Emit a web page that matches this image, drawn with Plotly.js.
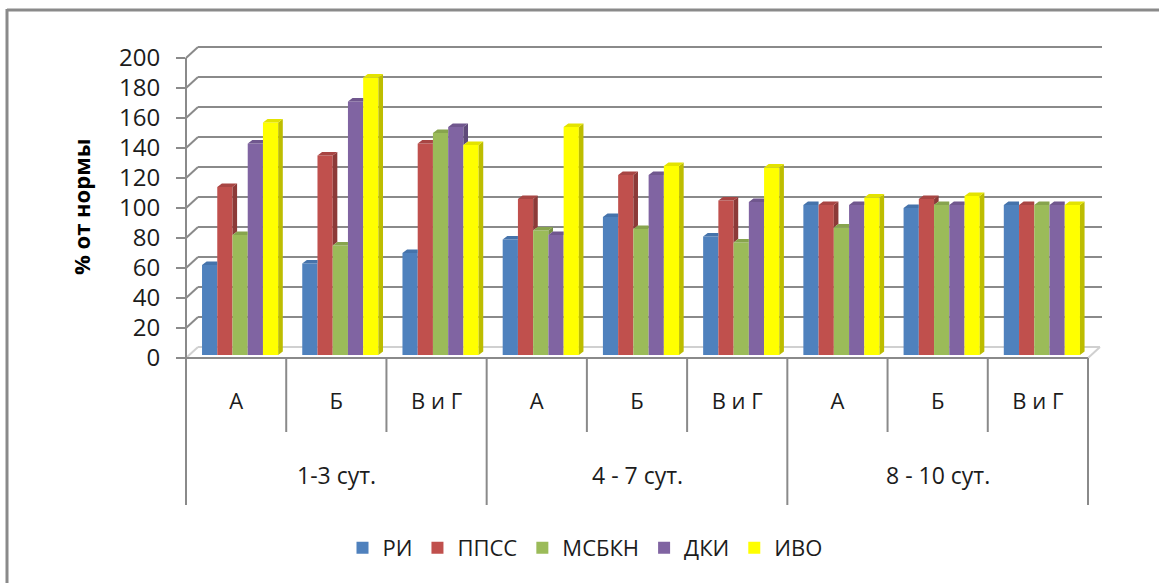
<!DOCTYPE html>
<html><head><meta charset="utf-8">
<script src="https://cdn.plot.ly/plotly-3.0.1.min.js"></script>
<style>html,body{margin:0;padding:0;background:#fff}#c{width:1159px;height:583px}</style>
</head><body><div id="c"></div>
<script>
const groups = ['1-3 сут.', '4 - 7 сут.', '8 - 10 сут.'];
const categories = ['А','Б','В и Г','А','Б','В и Г','А','Б','В и Г'];
const yTicks = [0,20,40,60,80,100,120,140,160,180,200];
const seriesNames = ['РИ','ППСС','МСБКН','ДКИ','ИВО'];
const RI    = [60,61,68,77,92,79,100,98,100];
const PPSS  = [112,133,141,104,120,103,100,104,100];
const MSBKN = [80,73,148,83,84,75,85,100,100];
const DKI   = [141,169,152,80,120,102,100,100,100];
const IVO   = [155,185,140,152,126,125,105,106,100];
const frontColors = ['#4f81bd','#c0504d','#9bbb59','#8064a2','#ffff00'];
const sideColors  = ['#3b6190','#8c3a38','#769043','#5f4a7a','#bdbd00'];
const topColors   = ['#4573ab','#a84543','#87a44d','#70578e','#e3e300'];
const values = [RI,PPSS,MSBKN,DKI,IVO];

// Page geometry (pixels) of the pseudo-3D frame
const L=186,R=1088,B=358,T=58,DX=12,DY=11;
const plotW=(R-L)+DX+2, plotH=(B-T)+DY;
const pxCat=(R-L)/categories.length, pxUnit=(B-T)/200;
const xMax=plotW/pxCat, yMax=plotH/pxUnit;
const px=x=>(x-L)/plotW, py=y=>(B-y)/plotH;

// Bar geometry in data units
const gap=0.24, barW=(1-gap)/5, shiftX=4/pxCat, base=3/pxUnit, sideX=4.6/pxCat, sideY=3.5/pxUnit;
const centers=categories.map((_,i)=>i+0.5+shiftX);

const traces=[];
values.forEach((v,s)=>{
  traces.push({type:'bar',name:seriesNames[s],x:centers,y:v,base:base,
    marker:{color:frontColors[s],line:{width:0}},hoverinfo:'name+y',legendrank:s+1});
});
values.forEach((v,s)=>{
  const sx=[],sy=[],tx=[],ty=[];
  v.forEach((val,i)=>{
    const l=centers[i]+(s-2.5)*barW, r=l+barW, t=val+base;
    const nextVal=s<4?values[s+1][i]:-1;
    const n=s<4?nextVal+base:base;
    if(s===4||nextVal<val){
      sx.push(r,r+sideX,r+sideX,r,r,null);
      sy.push(n,n+sideY,t+sideY,t,n,null);
      tx.push(l,r,r+sideX,l+sideX,l,null);
      ty.push(t,t,t+sideY,t+sideY,t,null);
    }else{
      tx.push(l,r,r,l+sideX,l,null);
      ty.push(t,t,t+sideY,t+sideY,t,null);
    }
  });
  const poly=(x,y,c)=>({type:'scatter',mode:'lines',x:x,y:y,fill:'toself',fillcolor:c,
    line:{width:0,color:c},hoverinfo:'skip',showlegend:false});
  traces.push(poly(sx,sy,sideColors[s]));
  traces.push(poly(tx,ty,topColors[s]));
});

const grey='#8a8a8a';
const shapes=[];
const seg=(x0,y0,x1,y1,c,w,extra)=>shapes.push(Object.assign({type:'line',xref:'paper',yref:'paper',layer:'below',
  x0:px(x0),y0:py(y0),x1:px(x1),y1:py(y1),line:{color:c||grey,width:w||2}},extra||{}));
// wall grid
yTicks.forEach(v=>{
  const y=B-v*pxUnit;
  if(v===0){seg(L,y,L+DX,y-DY,'#d0d0d0',2);seg(L+DX,y-DY,R+DX,y-DY,'#d0d0d0',2);seg(R,y,R+DX,y-DY,'#d0d0d0',2);}
  else{seg(L,y,L+DX,y-DY);seg(L+DX,y-DY,R+DX+2,y-DY);}
});
// axes and category dividers
seg(L,T,L,505); seg(L,B,R,B);
categories.forEach((_,i)=>{
  const x=L+(i+1)*pxCat;
  seg(x,B,x,(i+1)%3===0?505:432);
});
// outer chart frame
seg(7,10,1159,10,grey,3); seg(7,9,7,583,grey,3);

const annotations=groups.map((g,i)=>({xref:'paper',yref:'paper',x:px(L+(i*3+1.5)*pxCat),y:py(475),
  text:g,showarrow:false,xanchor:'center',yanchor:'middle',font:{family:'Open Sans',size:23,color:'#1c1c1c'}}));
annotations.push({xref:'paper',yref:'paper',x:px(81),y:py(207),text:'<b>% от нормы</b>',textangle:-90,showarrow:false,
  xanchor:'center',yanchor:'middle',font:{family:'Open Sans',size:22,color:'#000'}});

Plotly.newPlot('c',traces,{
  width:1159,height:583,
  margin:{l:L,r:1159-L-plotW,t:B-plotH,b:583-B,pad:0},
  paper_bgcolor:'#fff',plot_bgcolor:'rgba(0,0,0,0)',
  barmode:'group',bargap:gap,bargroupgap:0,
  font:{family:'Open Sans',color:'#1c1c1c'},
  xaxis:{type:'linear',range:[0,xMax],tickmode:'array',tickvals:categories.map((_,i)=>i+0.5),ticktext:categories,
    showgrid:false,zeroline:false,showline:false,ticks:'',ticklabelstandoff:28,tickfont:{family:'Open Sans',size:22,color:'#1c1c1c'},fixedrange:true},
  yaxis:{range:[0,yMax],tickmode:'array',tickvals:yTicks,ticktext:yTicks.map(String),
    showgrid:false,zeroline:false,showline:false,ticks:'outside',ticklen:9,tickwidth:2,tickcolor:grey,
    ticklabelstandoff:11,tickfont:{family:'Open Sans',size:24,color:'#1c1c1c'},fixedrange:true},
  showlegend:true,
  legend:{orientation:'h',x:0.5+5.5/1159,xref:'container',xanchor:'center',y:py(548)*plotH/583+(583-B)/583,yref:'container',yanchor:'middle',
    font:{family:'Open Sans',size:22,color:'#1c1c1c'},itemclick:false,itemdoubleclick:false,traceorder:'normal',bgcolor:'rgba(0,0,0,0)'},
  shapes:shapes,annotations:annotations
},{displayModeBar:false,staticPlot:true});
</script></body></html>
